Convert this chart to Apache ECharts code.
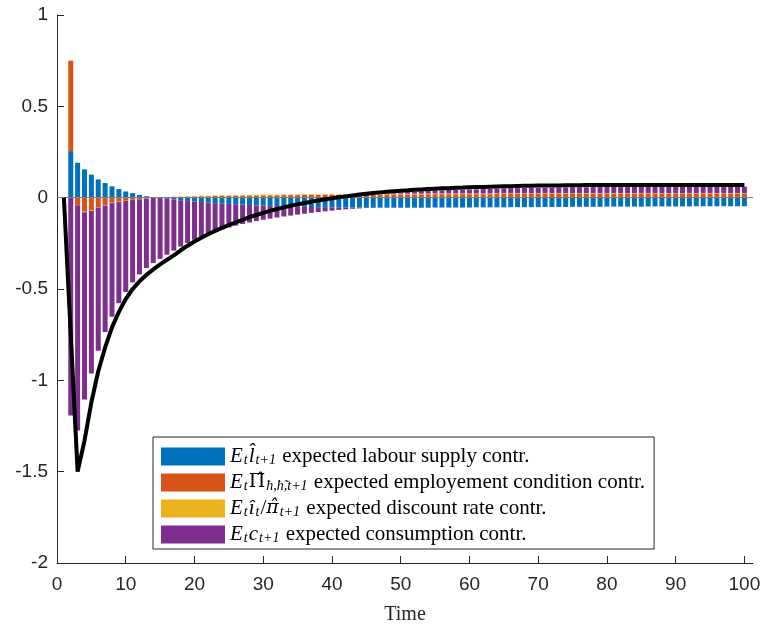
<!DOCTYPE html>
<html>
<head>
<meta charset="utf-8">
<script src="https://cdn.jsdelivr.net/npm/echarts@6/dist/echarts.min.js"></script>
<style>html,body{margin:0;padding:0;background:#fff}#c{width:764px;height:627px}</style>
</head>
<body>
<div id="c"></div>
<script>
// Bar periods: t = 2 .. 100 ; line periods: t = 1 .. 100
const barStart = 2, lineStart = 1;

const labourSupply = [
 0.255, 0.191, 0.155, 0.126, 0.100, 0.080, 0.062, 0.047, 0.034, 0.025,
 0.015, 0.008, 0.003, -0.002, -0.006, -0.010, -0.014, -0.018, -0.021, -0.024,
 -0.027, -0.030, -0.032, -0.034, -0.036, -0.038, -0.040, -0.042, -0.043, -0.045,
 -0.046, -0.047, -0.048, -0.049, -0.050, -0.051, -0.052, -0.052, -0.053, -0.053,
 -0.054, -0.054, -0.054, -0.055, -0.055, -0.055, -0.055, -0.055, -0.055, -0.055,
 -0.055, -0.055, -0.055, -0.054, -0.054, -0.054, -0.054, -0.054, -0.054, -0.053,
 -0.053, -0.053, -0.053, -0.053, -0.052, -0.052, -0.052, -0.052, -0.052, -0.051,
 -0.051, -0.051, -0.051, -0.050, -0.050, -0.050, -0.050, -0.050, -0.049, -0.049,
 -0.049, -0.049, -0.049, -0.049, -0.048, -0.048, -0.048, -0.048, -0.048, -0.048,
 -0.048, -0.047, -0.047, -0.047, -0.047, -0.047, -0.047, -0.047, -0.047
];
const employment = [
 0.495, -0.040, -0.077, -0.068, -0.051, -0.040, -0.028, -0.022, -0.017, -0.012,
 -0.008, -0.005, -0.002, 0.001, 0.003, 0.004, 0.005, 0.006, 0.007, 0.008,
 0.008, 0.009, 0.010, 0.010, 0.011, 0.011, 0.012, 0.012, 0.013, 0.013,
 0.013, 0.014, 0.014, 0.014, 0.015, 0.015, 0.015, 0.016, 0.016, 0.016,
 0.016, 0.017, 0.017, 0.017, 0.017, 0.017, 0.018, 0.018, 0.018, 0.018,
 0.018, 0.018, 0.019, 0.019, 0.019, 0.019, 0.019, 0.019, 0.019, 0.019,
 0.019, 0.019, 0.020, 0.020, 0.020, 0.020, 0.020, 0.020, 0.020, 0.020,
 0.020, 0.020, 0.020, 0.020, 0.020, 0.020, 0.020, 0.020, 0.020, 0.020,
 0.020, 0.020, 0.020, 0.020, 0.020, 0.020, 0.020, 0.020, 0.020, 0.020,
 0.020, 0.020, 0.020, 0.020, 0.020, 0.020, 0.020, 0.020, 0.020
];
const discountRate = [
 0.000, -0.002, -0.003, -0.003, -0.003, -0.003, -0.002, -0.002, -0.001, -0.001,
 -0.001, 0.000, 0.000, 0.001, 0.001, 0.002, 0.002, 0.002, 0.003, 0.003,
 0.003, 0.003, 0.003, 0.003, 0.004, 0.004, 0.004, 0.004, 0.004, 0.004,
 0.004, 0.004, 0.004, 0.004, 0.004, 0.004, 0.004, 0.004, 0.004, 0.004,
 0.004, 0.004, 0.004, 0.004, 0.004, 0.004, 0.004, 0.004, 0.004, 0.004,
 0.004, 0.004, 0.004, 0.004, 0.004, 0.004, 0.004, 0.004, 0.004, 0.004,
 0.004, 0.004, 0.004, 0.004, 0.004, 0.004, 0.004, 0.004, 0.004, 0.004,
 0.004, 0.004, 0.004, 0.004, 0.004, 0.004, 0.004, 0.004, 0.004, 0.004,
 0.004, 0.004, 0.004, 0.004, 0.004, 0.004, 0.004, 0.004, 0.004, 0.004,
 0.004, 0.004, 0.004, 0.004, 0.004, 0.004, 0.004, 0.004, 0.004
];
const consumption = [
 -1.193, -1.233, -1.025, -0.891, -0.784, -0.693, -0.622, -0.554, -0.498, -0.451,
 -0.411, -0.380, -0.356, -0.333, -0.306, -0.280, -0.254, -0.230, -0.209, -0.189,
 -0.172, -0.156, -0.142, -0.129, -0.117, -0.106, -0.096, -0.086, -0.078, -0.070,
 -0.063, -0.056, -0.050, -0.044, -0.038, -0.032, -0.027, -0.023, -0.018, -0.014,
 -0.010, -0.007, -0.005, -0.002, -0.001, 0.001, 0.003, 0.005, 0.007, 0.009,
 0.011, 0.013, 0.014, 0.016, 0.017, 0.019, 0.020, 0.021, 0.022, 0.023,
 0.024, 0.025, 0.026, 0.027, 0.028, 0.028, 0.029, 0.030, 0.030, 0.031,
 0.031, 0.032, 0.032, 0.033, 0.033, 0.033, 0.034, 0.034, 0.034, 0.035,
 0.035, 0.035, 0.035, 0.036, 0.036, 0.036, 0.036, 0.036, 0.036, 0.036,
 0.036, 0.036, 0.036, 0.036, 0.036, 0.036, 0.036, 0.036, 0.036
];
const totalLine = [
 0.000, -0.750, -1.500, -1.330, -1.120, -0.950, -0.820, -0.710, -0.625, -0.555,
 -0.500, -0.458, -0.423, -0.393, -0.365, -0.340, -0.316, -0.288, -0.263, -0.240,
 -0.219, -0.200, -0.182, -0.165, -0.150, -0.135, -0.121, -0.107, -0.095, -0.083,
 -0.072, -0.062, -0.053, -0.044, -0.036, -0.029, -0.022, -0.015, -0.009, -0.003,
 0.002, 0.007, 0.012, 0.017, 0.021, 0.025, 0.029, 0.032, 0.035, 0.038,
 0.040, 0.043, 0.045, 0.047, 0.049, 0.051, 0.052, 0.054, 0.055, 0.057,
 0.058, 0.059, 0.060, 0.061, 0.062, 0.063, 0.064, 0.065, 0.065, 0.066,
 0.066, 0.067, 0.067, 0.068, 0.068, 0.068, 0.069, 0.069, 0.069, 0.069,
 0.070, 0.070, 0.070, 0.070, 0.070, 0.070, 0.070, 0.070, 0.070, 0.070,
 0.070, 0.070, 0.069, 0.069, 0.069, 0.069, 0.069, 0.069, 0.069, 0.069
];
const xTicks = [0, 10, 20, 30, 40, 50, 60, 70, 80, 90, 100];
const seriesNames = ['labour supply', 'employment condition', 'discount rate', 'consumption'];
const legendRich = {
  'labour supply': '{m|E}{s|t}{m|l\u0302}{s|t+1}{r| expected labour supply contr.}',
  'employment condition': '{m|E}{s|t}{hu|\u03A0\u0302}{s|\u0127,\u0127\u0303,t+1}{r| expected employement condition contr.}',
  'discount rate': '{m|E}{s|t}{m|\u00EE}{s|t}{r|/}{hi|\u03C0\u0302}{s|t+1}{r| expected discount rate contr.}',
  'consumption': '{m|E}{s|t}{m|c}{s|t+1}{r| expected consumption contr.}'
};
const colors = ['#0072BD', '#D95319', '#EDB120', '#7E2F8E'];

// data items as [value, period] so that the value dimension is the stacked one
function pairs(start, arr) { return arr.map((v, i) => [v, start + i]); }

const barData = [labourSupply, employment, discountRate, consumption];
const series = barData.map((arr, k) => ({
  name: seriesNames[k],
  type: 'bar',
  stack: 'contr',
  stackStrategy: 'samesign',
  barWidth: 5,
  encode: { x: 1, y: 0 },
  itemStyle: { color: colors[k] },
  data: pairs(barStart, arr),
  z: 2
}));
series[3].markLine = {
  silent: true, symbol: 'none', label: { show: false },
  lineStyle: { color: '#7f7f7f', width: 1, type: 'solid' },
  data: [{ yAxis: 0 }]
};
series.push({
  name: 'total', type: 'line', showSymbol: false, symbol: 'none',
  encode: { x: 1, y: 0 },
  data: pairs(lineStart, totalLine),
  lineStyle: { color: '#000', width: 4 }, itemStyle: { color: '#000' },
  z: 10
});

const serif = "'Liberation Serif', 'DejaVu Serif', serif";
const chart = echarts.init(document.getElementById('c'), null, { renderer: 'canvas' });
chart.setOption({
  animation: false,
  backgroundColor: '#fff',
  grid: { left: 57, right: 11, top: 15, bottom: 64, containLabel: false, outerBoundsMode: 'none' },
  xAxis: {
    type: 'value', min: 0, max: 101.25, interval: 10,
    name: 'Time', nameLocation: 'middle', nameGap: 42,
    nameTextStyle: { fontFamily: serif, fontSize: 20, color: '#262626' },
    axisLine: { show: true, onZero: false, lineStyle: { color: '#262626', width: 1 } },
    axisTick: { show: true, inside: true, length: 7, customValues: xTicks, lineStyle: { color: '#262626' } },
    axisLabel: { customValues: xTicks, fontFamily: "'Liberation Sans', Arial, sans-serif", fontSize: 19, color: '#262626', margin: 12 },
    splitLine: { show: false }
  },
  yAxis: {
    type: 'value', min: -2, max: 1, interval: 0.5,
    axisLine: { show: true, lineStyle: { color: '#262626', width: 1 } },
    axisTick: { show: true, inside: true, length: 7, lineStyle: { color: '#262626' } },
    axisLabel: { fontFamily: "'Liberation Sans', Arial, sans-serif", fontSize: 19, color: '#262626', margin: 9 },
    splitLine: { show: false }
  },
  legend: {
    data: seriesNames,
    orient: 'vertical', left: 153, top: 437,
    padding: [9, 9, 4, 8], itemGap: 5,
    itemWidth: 64, itemHeight: 18, icon: 'rect',
    backgroundColor: '#fff', borderColor: '#262626', borderWidth: 1,
    selectedMode: false,
    formatter: name => legendRich[name],
    textStyle: {
      color: '#000', fontFamily: serif, fontSize: 21,
      rich: {
        m: { fontFamily: serif, fontStyle: 'italic', fontSize: 21, lineHeight: 21, color: '#000' },
        r: { fontFamily: serif, fontSize: 21, lineHeight: 21, color: '#000' },
        hu: { fontFamily: "'DejaVu Serif', serif", fontSize: 19, lineHeight: 21, color: '#000' },
        hi: { fontFamily: "'DejaVu Serif', serif", fontStyle: 'italic', fontSize: 19, lineHeight: 21, color: '#000' },
        s: { fontFamily: serif, fontStyle: 'italic', fontSize: 14, lineHeight: 10, verticalAlign: 'bottom', padding: [0, 1, 0, 1], color: '#000' }
      }
    }
  },
  series: series
});
</script>
</body>
</html>
